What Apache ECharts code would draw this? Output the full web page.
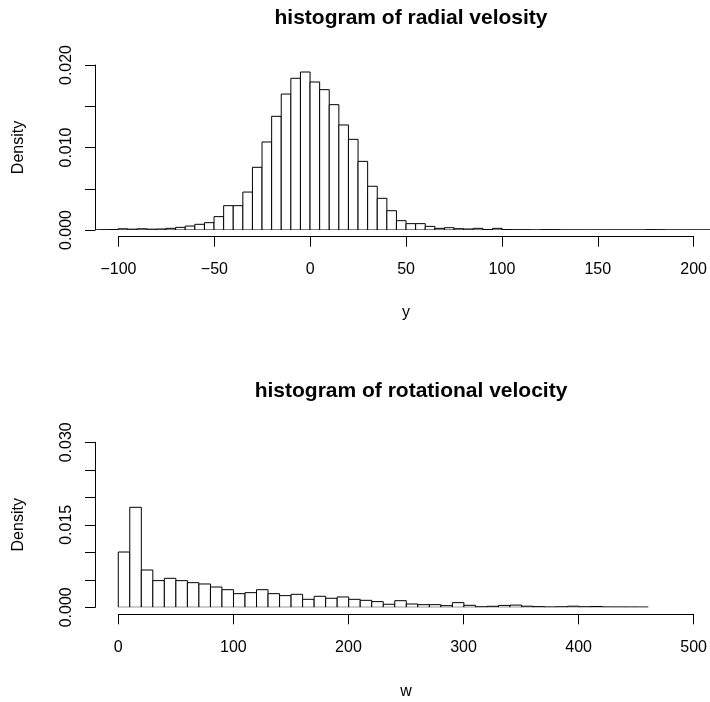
<!DOCTYPE html>
<html>
<head>
<meta charset="utf-8">
<title>histograms</title>
<script src="https://cdn.jsdelivr.net/npm/echarts@6/dist/echarts.min.js"></script>
<style>
  html, body { margin: 0; padding: 0; background: #fff; }
  #chart { width: 710px; height: 702px; }
</style>
</head>
<body>
<div id="chart"></div>
<script>
// radial velocity (y): bin left edges, width 5
const radialBins = [
  -115, -110, -105, -100, -95, -90, -85, -80, -75, -70, -65, -60, -55, -50,
  -45, -40, -35, -30, -25, -20, -15, -10, -5, 0, 5, 10, 15, 20, 25, 30, 35,
  40, 45, 50, 55, 60, 65, 70, 75, 80, 85, 90, 95, 100, 105, 110, 115, 120,
  125, 130, 135, 140, 145, 150, 155, 160, 165, 170, 175, 180, 185, 190, 195,
  200, 205,
];
const radialDensity = [
  0, 0.00003, 0.00005, 0.00015, 0.0001, 0.00015, 0.0001, 0.00012, 0.0002,
  0.00032, 0.00048, 0.00069, 0.00089, 0.00162, 0.00295, 0.00295, 0.0046,
  0.0076, 0.01067, 0.01378, 0.01648, 0.01839, 0.01915, 0.01794, 0.01701,
  0.01519, 0.01273, 0.01099, 0.00832, 0.0053, 0.00384, 0.00234, 0.00113,
  0.00077, 0.00077, 0.00044, 0.0002, 0.00028, 0.00016, 0.00012, 0.0002,
  0.00005, 0.0002, 0.00005, 0.00003, 0.00003, 0, 0.00004, 0.00004, 0, 0, 0,
  0, 0, 0, 0, 0, 0, 0.00004, 0.00003, 0, 0, 0, 0, 0,
];
const radialWidth = 5;
const radialTicks = [-100, -50, 0, 50, 100, 150, 200];

// rotational velocity (w): bin left edges, width 10
const rotBins = [
  0, 10, 20, 30, 40, 50, 60, 70, 80, 90, 100, 110, 120, 130, 140, 150, 160,
  170, 180, 190, 200, 210, 220, 230, 240, 250, 260, 270, 280, 290, 300, 310,
  320, 330, 340, 350, 360, 370, 380, 390, 400, 410, 420, 430, 440, 450,
];
const rotDensity = [
  0.01005, 0.01818, 0.00678, 0.00485, 0.00527, 0.00485, 0.00448, 0.00424,
  0.00369, 0.0032, 0.00248, 0.00266, 0.0032, 0.00248, 0.00212, 0.00236,
  0.00145, 0.002, 0.00164, 0.00188, 0.00145, 0.00127, 0.00103, 0.00055,
  0.0012, 0.0006, 0.00048, 0.00048, 0.0003, 0.00085, 0.00036, 0.0001,
  0.00018, 0.00034, 0.0004, 0.0002, 0.00012, 0.00006, 0.0001, 0.0002,
  0.0001, 0.00015, 0.00006, 0.00005, 0.00005, 0.00004,
];
const rotWidth = 10;
const rotTicks = [0, 100, 200, 300, 400, 500];

const font = "'Liberation Sans', Arial, sans-serif";
const black = "#000";

const chart = echarts.init(document.getElementById("chart"), null, {
  renderer: "canvas",
});

// white boxes with black outline, like R's hist()
const renderBins = (width) => (params, api) => {
  const x0 = api.value(0);
  const p0 = api.coord([x0, 0]);
  const p1 = api.coord([x0 + width, api.value(1)]);
  return {
    type: "rect",
    shape: {
      x: p0[0],
      y: p1[1],
      width: p1[0] - p0[0],
      height: p0[1] - p1[1],
    },
    style: { fill: "#fff", stroke: black, lineWidth: 1 },
  };
};

const densityAxis = (gridIndex, max, labelStep) => ({
  gridIndex,
  type: "value",
  min: 0,
  max,
  interval: 0.005,
  name: "Density",
  nameLocation: "middle",
  nameRotate: 90,
  nameGap: 68,
  nameTextStyle: { color: black, fontSize: 16, fontFamily: font },
  axisLine: { show: true, onZero: false, lineStyle: { color: black, width: 1 } },
  axisTick: { show: true, length: 10, lineStyle: { color: black } },
  axisLabel: {
    rotate: 90,
    margin: 20,
    color: black,
    fontSize: 16,
    fontFamily: font,
    formatter: (v) =>
      Math.round(v * 1000) % labelStep === 0 ? v.toFixed(3) : "",
  },
  splitLine: { show: false },
});

const tickAxis = (gridIndex, min, max, interval, name, nameGap) => ({
  gridIndex,
  type: "value",
  min,
  max,
  interval,
  name,
  nameLocation: "middle",
  nameGap,
  nameTextStyle: { color: black, fontSize: 16, fontFamily: font },
  axisLine: { show: true, onZero: false, lineStyle: { color: black, width: 1 } },
  axisTick: { show: true, length: 10, lineStyle: { color: black } },
  axisLabel: {
    margin: 25,
    color: black,
    fontSize: 16,
    fontFamily: font,
    formatter: (v) => String(v).replace("-", "\u2212"),
  },
  splitLine: { show: false },
});

const hiddenAxis = (gridIndex, min, max) => ({
  gridIndex,
  type: "value",
  min,
  max,
  show: false,
  axisLine: { onZero: false },
});

const option = {
  animation: false,
  backgroundColor: "#fff",
  title: [
    {
      text: "histogram of radial velosity",
      left: 406,
      top: 3,
      textAlign: "center",
      textStyle: { color: black, fontSize: 21, fontWeight: "bold", fontFamily: font },
    },
    {
      text: "histogram of rotational velocity",
      left: 406,
      top: 376,
      textAlign: "center",
      textStyle: { color: black, fontSize: 21, fontWeight: "bold", fontFamily: font },
    },
  ],
  grid: [
    // data areas; y spans exactly the labelled density range
    { left: 95, right: 0, top: 65, height: 165 },
    { left: 118.5, right: 15.7, top: 226.7, height: 10 },
    { left: 95, right: 0, top: 442.3, height: 165 },
    { left: 118.3, right: 15.7, top: 604.3, height: 10 },
  ],
  xAxis: [
    hiddenAxis(0, -112, 208.3),
    tickAxis(1, radialTicks[0], radialTicks[radialTicks.length - 1], 50, "y", 68),
    hiddenAxis(2, -20.2, 513.6),
    tickAxis(3, rotTicks[0], rotTicks[rotTicks.length - 1], 100, "w", 69),
  ],
  yAxis: [
    densityAxis(0, 0.02, 10),
    hiddenAxis(1, 0, 1),
    densityAxis(2, 0.03, 15),
    hiddenAxis(3, 0, 1),
  ],
  series: [
    {
      name: "radial",
      type: "custom",
      xAxisIndex: 0,
      yAxisIndex: 0,
      clip: true,
      renderItem: renderBins(radialWidth),
      data: radialBins.map((b, i) => [b, radialDensity[i]]),
    },
    {
      name: "rotational",
      type: "custom",
      xAxisIndex: 2,
      yAxisIndex: 2,
      clip: true,
      renderItem: renderBins(rotWidth),
      data: rotBins.map((b, i) => [b, rotDensity[i]]),
    },
  ],
};

chart.setOption(option);
</script>
</body>
</html>
